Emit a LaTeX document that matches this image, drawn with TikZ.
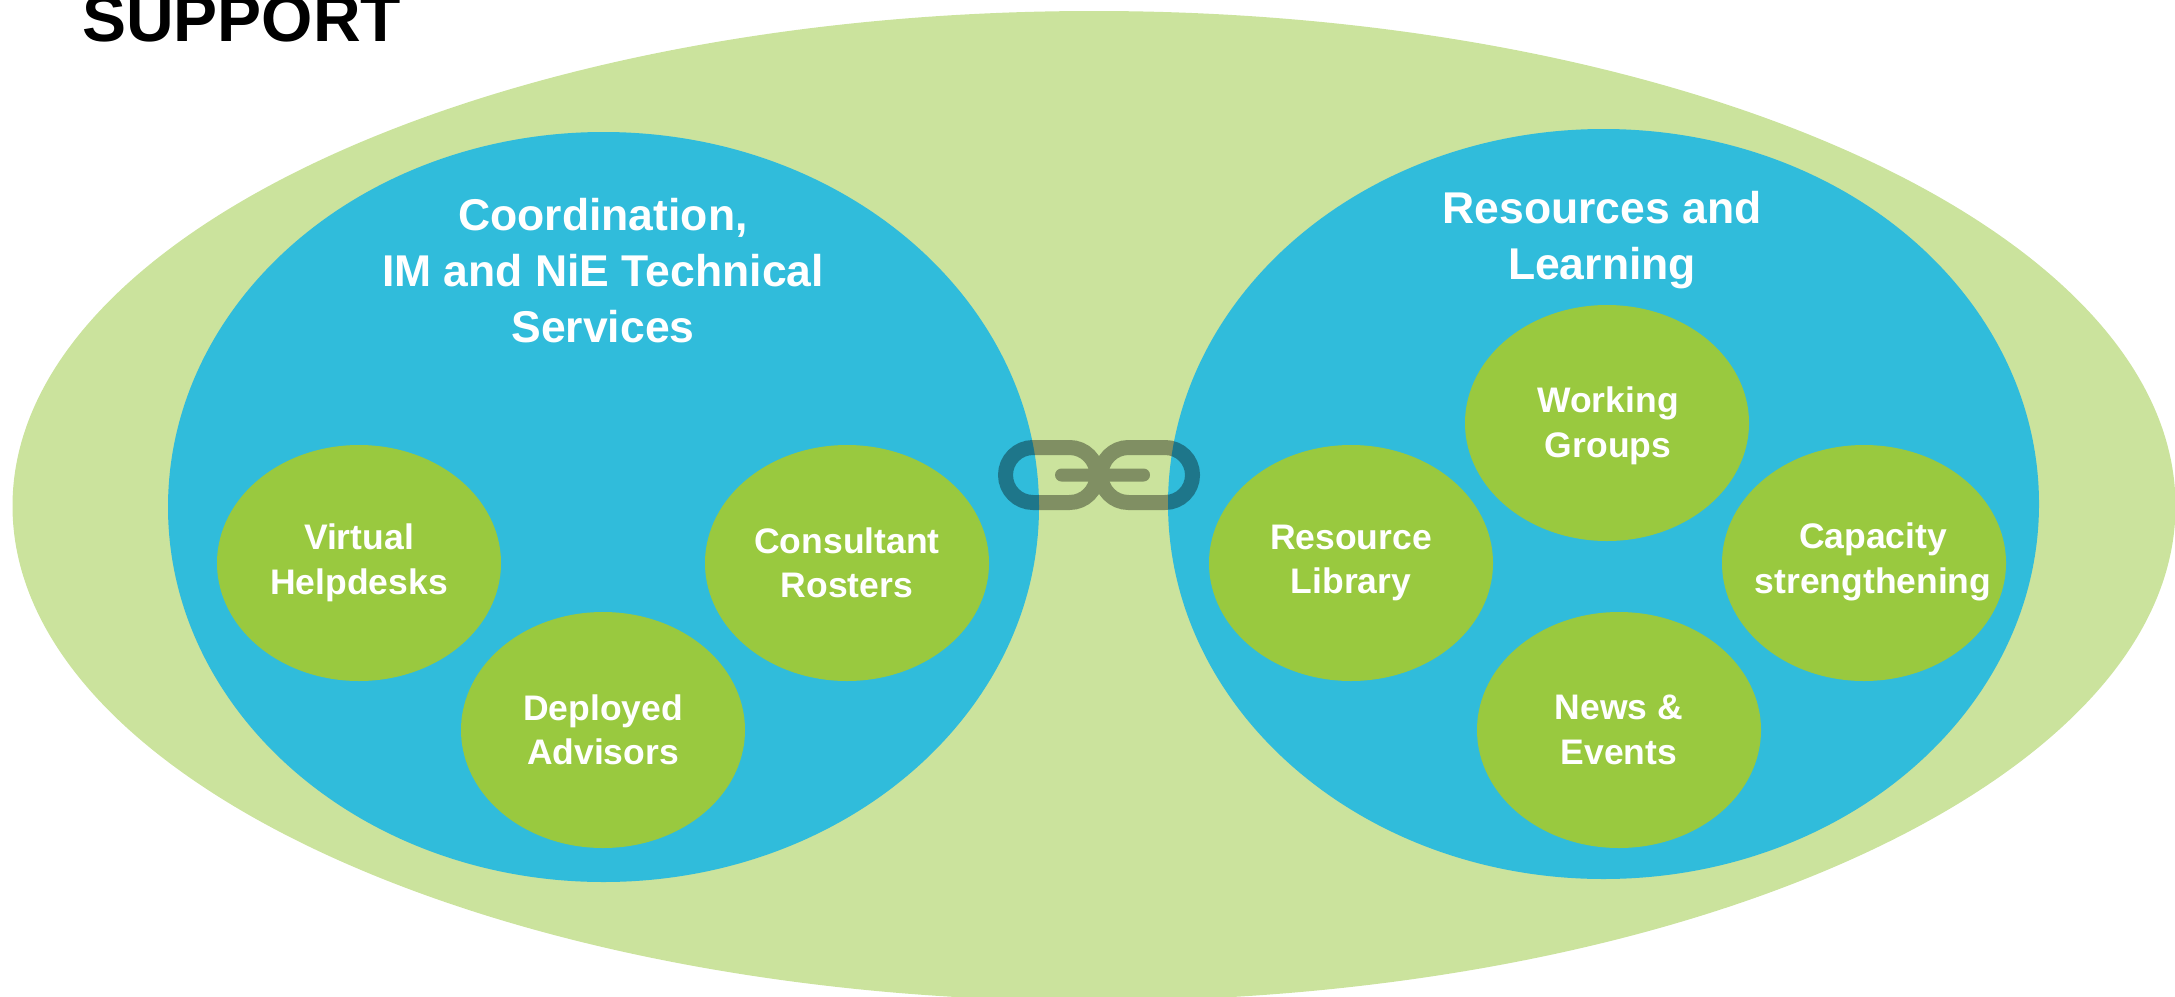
\documentclass[tikz,border=0pt]{standalone}
\usepackage{fontspec}
\setmainfont{Liberation Sans}
\usetikzlibrary{shapes.geometric}
\definecolor{outerc}{HTML}{CBE39D}
\definecolor{bluec}{HTML}{30BCDB}
\definecolor{greenc}{HTML}{99C93F}
\tikzset{
  px/.style={x=1pt,y=-1pt},
  outerell/.style={ellipse,fill=outerc,inner sep=0pt,minimum width=2163pt,minimum height=990pt},
  blueell/.style={ellipse,fill=bluec,inner sep=0pt,minimum width=871pt,minimum height=750pt},
  greentxt/.style={text=white,align=center,font=\fontsize{35.5}{44.5}\selectfont\bfseries},
  greenell/.style={ellipse,fill=greenc,inner ysep=0pt,inner xsep=-30pt,minimum width=284pt,minimum height=236pt,greentxt},
  labeltxt/.style={greentxt,inner sep=0pt},
  headtxt/.style={text=white,align=center,inner sep=0pt,font=\fontsize{44.5}{56}\selectfont\bfseries},
  chaingroup/.style={transparency group,opacity=0.37},
  chainlink/.style={draw=black,line width=15pt,rounded corners=27.5pt},
  chainbar/.style={draw=black,line width=13pt,line cap=round}
}
\begin{document}
\begin{tikzpicture}[px]
\useasboundingbox (0,0) rectangle (2175,996);
\clip (0,0) rectangle (2175,996);
\node[anchor=base west,inner sep=0pt,font=\fontsize{66}{66}\selectfont\bfseries] (title) at (82,41) {SUPPORT};
\node[outerell] (outer) at (1094,506) {};
\node[blueell] (coord) at (603.5,507) {};
\node[blueell] (res) at (1603.5,504) {};
\node[headtxt] (coordt) at (603,271) {Coordination,\\IM and NiE Technical\\Services};
\node[headtxt] (rest) at (1602,240) {Resources and\\Learning};
\node[greenell] (virt) at (359,563) {Virtual\\Helpdesks};
\node[greenell] (depl) at (603,730) {Deployed\\Advisors};
\node[greenell] (cons) at (847,563) {Consultant\\Rosters};
\node[greenell] (libr) at (1351,563) {Resource\\Library};
\node[greenell] (work) at (1607,423) {};
\node[labeltxt] (workt) at (1608,426) {Working\\Groups};
\node[greenell] (capa) at (1864,563) {};
\node[labeltxt] (capat) at (1873,562) {Capacity\\strengthening};
\node[greenell] (news) at (1619,730) {News \&\\Events};
\coordinate (lt) at (1005.5,447.5);
\coordinate (lb) at (1097,502.5);
\coordinate (rt) at (1101,447.5);
\coordinate (rb) at (1192.5,502.5);
\coordinate (bl) at (1061.5,475);
\coordinate (br) at (1143.5,475);
\begin{scope}[chaingroup]
\draw[chainlink] (lt) rectangle (lb) (rt) rectangle (rb);
\draw[chainbar] (bl) -- (br);
\end{scope}
\end{tikzpicture}
\end{document}
